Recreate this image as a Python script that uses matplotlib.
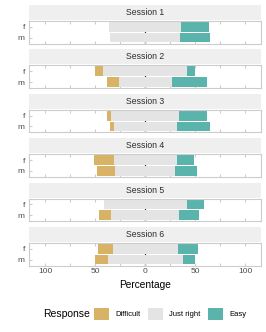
import matplotlib
matplotlib.use("Agg")
import matplotlib.pyplot as plt
from matplotlib.patches import Patch
from matplotlib.ticker import MultipleLocator

plt.rcParams['font.family'] = ['Liberation Sans', 'DejaVu Sans']

# data (percent of answers)
sessions = ["Session 1", "Session 2", "Session 3", "Session 4", "Session 5", "Session 6"]
groups = ["f", "m"]
difficult_f = [0, 8, 4, 20, 0, 15]
just_right_f = [72, 84, 68, 63, 83, 65]
easy_f = [28, 8, 28, 17, 17, 20]
difficult_m = [0, 12, 4, 18, 12, 13]
just_right_m = [70, 53, 63, 60, 68, 75]
easy_m = [30, 35, 33, 22, 20, 12]
responses = ["Difficult", "Just right", "Easy"]
tick_vals = [-100, -50, 0, 50, 100]
tick_labels = ["100", "50", "0", "50", "100"]

col_diff = "#D8B365"
col_jr = "#E4E4E4"
col_easy = "#5AB4AC"
border = "#CCCCCC"

W, H = 266, 332
fig = plt.figure(figsize=(W / 100, H / 100), dpi=100)

left_px, right_px = 29, 261
def fx(px):
    return px / W

for i, s in enumerate(sessions):
    top = 5 + 44.4 * i
    # strip
    sax = fig.add_axes([fx(left_px), 1 - (top + 15) / H, fx(right_px - left_px), 15 / H])
    sax.set_facecolor("#EFEFEF")
    for sp in sax.spines.values():
        sp.set_visible(False)
    sax.set_xticks([])
    sax.set_yticks([])
    sax.text(0.5, 0.5, s, ha="center", va="center", fontsize=6.2, color="#2B2B2B",
             transform=sax.transAxes)

    # panel
    ax = fig.add_axes([fx(left_px), 1 - (top + 16 + 22.5) / H, fx(right_px - left_px), 22.5 / H])
    d = [difficult_f[i], difficult_m[i]]
    j = [just_right_f[i], just_right_m[i]]
    e = [easy_f[i], easy_m[i]]
    ypos = [1, 0]
    ax.axvline(0, color="#333333", lw=0.9, zorder=1)
    for y, dv, jv, ev in zip(ypos, d, j, e):
        ax.barh(y, jv, left=-jv / 2, height=0.9, color=col_jr, zorder=2)
        ax.barh(y, dv, left=-jv / 2 - dv, height=0.9, color=col_diff, zorder=2)
        ax.barh(y, ev, left=jv / 2, height=0.9, color=col_easy, zorder=2)
    ax.set_xlim(-116, 116)
    ax.set_ylim(-0.55, 1.55)
    ax.set_yticks(ypos)
    ax.set_yticklabels(groups)
    ax.set_xticks(tick_vals)
    ax.xaxis.set_minor_locator(MultipleLocator(25))
    for sp in ax.spines.values():
        sp.set_color(border)
        sp.set_linewidth(0.8)
    ax.tick_params(axis="both", which="both", direction="in", color=border,
                   length=2.5, width=0.8, top=True, right=False,
                   labelsize=6, labelcolor="#4D4D4D", pad=2)
    ax.tick_params(axis="y", pad=3)
    if i == len(sessions) - 1:
        ax.set_xticklabels(tick_labels)
    else:
        ax.set_xticklabels([])
    ax.set_facecolor("white")

fig.text(fx(145), 1 - 285 / H, "Percentage", ha="center", va="center", fontsize=7.3)

# legend
fig.text(fx(43), 1 - 314 / H, "Response", ha="left", va="center", fontsize=7.5)
handles = [Patch(facecolor=c, edgecolor="none") for c in [col_diff, col_jr, col_easy]]
fig.legend(handles, responses, ncol=3, loc="center left",
           bbox_to_anchor=(fx(94), 1 - 314 / H), frameon=False, fontsize=5.5,
           handlelength=1.95, handleheight=1.95, handletextpad=0.8,
           columnspacing=1.0, borderpad=0, borderaxespad=0)

fig.savefig("out.png", dpi=100)
